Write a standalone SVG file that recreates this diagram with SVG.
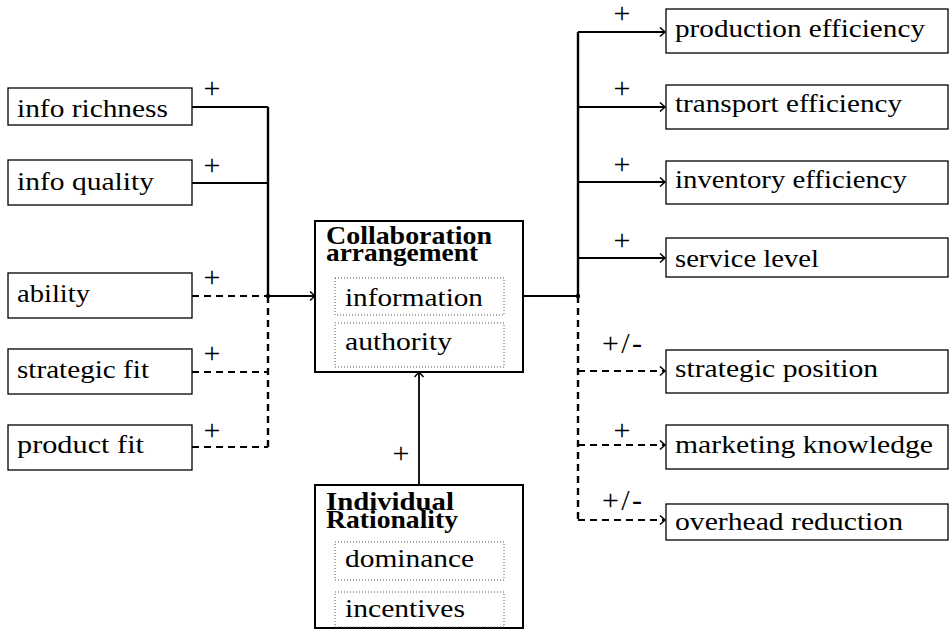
<svg xmlns="http://www.w3.org/2000/svg" width="951" height="637" viewBox="0 0 951 637">
  <style>
    text { font-family: "Liberation Serif", "DejaVu Serif", serif; font-size: 26px; fill: #000; }
    .title { font-weight: bold; font-size: 25px; }
    .sign { font-size: 30px; text-anchor: middle; }
    .leaf { fill: #fff; stroke: #000; stroke-width: 1.3; }
    .core { fill: #fff; stroke: #000; stroke-width: 2; }
    .sub { fill: none; stroke: #555; stroke-width: 1; stroke-dasharray: 1 2; }
    .wire { fill: none; stroke: #000; stroke-width: 1.8; }
    .bus { fill: none; stroke: #000; stroke-width: 2.4; }
    .dash { stroke-dasharray: 7 5; }
  </style>
  <defs>
    <marker id="arrow" markerWidth="8" markerHeight="12" refX="6" refY="5" orient="auto" markerUnits="userSpaceOnUse">
      <path d="M1,0.5 L6,5 L1,9.5" fill="none" stroke="#000" stroke-width="1.5"/>
    </marker>
  </defs>

  <rect width="951" height="637" fill="#fff"/>

  <!-- connectors -->
  <g id="connectors">
    <!-- left inputs into the left bus -->
    <path class="wire" d="M192,107 H268"/>
    <path class="wire" d="M192,183 H268"/>
    <path class="wire dash" d="M192,296 H268"/>
    <path class="wire dash" d="M192,372 H268"/>
    <path class="wire dash" d="M192,447 H268"/>
    <path class="bus" d="M268,107 V296"/>
    <path class="bus dash" d="M268,296 V447"/>
    <circle cx="268" cy="296" r="2.2"/>
    <path class="wire" d="M268,296 H315" marker-end="url(#arrow)"/>

    <!-- individual rationality up into collaboration arrangement -->
    <path class="wire" d="M419,485 V372" marker-end="url(#arrow)"/>

    <!-- collaboration arrangement out to the right bus -->
    <path class="wire" d="M523,296 H578"/>
    <path class="bus" d="M578,32 V296"/>
    <path class="bus dash" d="M578,296 V520"/>
    <circle cx="578" cy="296" r="2.2"/>
    <path class="wire" d="M578,32 H665" marker-end="url(#arrow)"/>
    <path class="wire" d="M578,107 H665" marker-end="url(#arrow)"/>
    <path class="wire" d="M578,182 H665" marker-end="url(#arrow)"/>
    <path class="wire" d="M578,258 H665" marker-end="url(#arrow)"/>
    <path class="wire dash" d="M578,371 H665" marker-end="url(#arrow)"/>
    <path class="wire dash" d="M578,445 H665" marker-end="url(#arrow)"/>
    <path class="wire dash" d="M578,520 H665" marker-end="url(#arrow)"/>

    <!-- effect signs -->
    <text class="sign" x="212" y="98">+</text>
    <text class="sign" x="212" y="175">+</text>
    <text class="sign" x="212" y="287">+</text>
    <text class="sign" x="212" y="363">+</text>
    <text class="sign" x="212" y="440">+</text>
    <text class="sign" x="401" y="463">+</text>
    <text class="sign" x="622" y="23">+</text>
    <text class="sign" x="622" y="98">+</text>
    <text class="sign" x="622" y="174">+</text>
    <text class="sign" x="622" y="250">+</text>
    <text class="sign" x="622" y="353" textLength="40" lengthAdjust="spacing">+/-</text>
    <text class="sign" x="622" y="440">+</text>
    <text class="sign" x="622" y="510" textLength="40" lengthAdjust="spacing">+/-</text>
  </g>

  <!-- input factors -->
  <g id="info-richness">
    <rect class="leaf" x="8" y="88" width="184" height="37"/>
    <text x="17" y="117" textLength="151" lengthAdjust="spacingAndGlyphs">info richness</text>
  </g>
  <g id="info-quality">
    <rect class="leaf" x="8" y="160" width="184" height="45"/>
    <text x="17" y="190" textLength="137" lengthAdjust="spacingAndGlyphs">info quality</text>
  </g>
  <g id="ability">
    <rect class="leaf" x="8" y="273" width="184" height="45"/>
    <text x="17" y="302" textLength="73" lengthAdjust="spacingAndGlyphs">ability</text>
  </g>
  <g id="strategic-fit">
    <rect class="leaf" x="8" y="349" width="184" height="45"/>
    <text x="17" y="378" textLength="132" lengthAdjust="spacingAndGlyphs">strategic fit</text>
  </g>
  <g id="product-fit">
    <rect class="leaf" x="8" y="425" width="184" height="45"/>
    <text x="17" y="453" textLength="127" lengthAdjust="spacingAndGlyphs">product fit</text>
  </g>

  <!-- central construct -->
  <g id="collaboration-arrangement">
    <rect class="core" x="315" y="221" width="208" height="151"/>
    <text class="title"><tspan x="326" y="244" textLength="166" lengthAdjust="spacingAndGlyphs">Collaboration</tspan><tspan x="326" y="261" textLength="152" lengthAdjust="spacingAndGlyphs">arrangement</tspan></text>
    <rect class="sub" x="335" y="278" width="169" height="37"/>
    <text x="345" y="306" textLength="138" lengthAdjust="spacingAndGlyphs">information</text>
    <rect class="sub" x="335" y="323" width="169" height="44"/>
    <text x="345" y="350" textLength="107" lengthAdjust="spacingAndGlyphs">authority</text>
  </g>

  <g id="individual-rationality">
    <rect class="core" x="315" y="485" width="208" height="143"/>
    <text class="title"><tspan x="326" y="510" textLength="128" lengthAdjust="spacingAndGlyphs">Individual</tspan><tspan x="326" y="528" textLength="132" lengthAdjust="spacingAndGlyphs">Rationality</tspan></text>
    <rect class="sub" x="335" y="542" width="169" height="38"/>
    <text x="345" y="567" textLength="129" lengthAdjust="spacingAndGlyphs">dominance</text>
    <rect class="sub" x="335" y="592" width="169" height="35"/>
    <text x="345" y="617" textLength="120" lengthAdjust="spacingAndGlyphs">incentives</text>
  </g>

  <!-- outcomes -->
  <g id="production-efficiency">
    <rect class="leaf" x="666" y="9" width="282" height="44"/>
    <text x="675" y="37" textLength="250" lengthAdjust="spacingAndGlyphs">production efficiency</text>
  </g>
  <g id="transport-efficiency">
    <rect class="leaf" x="666" y="85" width="282" height="44"/>
    <text x="675" y="112" textLength="227" lengthAdjust="spacingAndGlyphs">transport efficiency</text>
  </g>
  <g id="inventory-efficiency">
    <rect class="leaf" x="666" y="161" width="282" height="43"/>
    <text x="675" y="188" textLength="232" lengthAdjust="spacingAndGlyphs">inventory efficiency</text>
  </g>
  <g id="service-level">
    <rect class="leaf" x="666" y="238" width="282" height="39"/>
    <text x="675" y="267" textLength="144" lengthAdjust="spacingAndGlyphs">service level</text>
  </g>
  <g id="strategic-position">
    <rect class="leaf" x="666" y="350" width="282" height="43"/>
    <text x="675" y="377" textLength="203" lengthAdjust="spacingAndGlyphs">strategic position</text>
  </g>
  <g id="marketing-knowledge">
    <rect class="leaf" x="666" y="425" width="282" height="44"/>
    <text x="675" y="453" textLength="258" lengthAdjust="spacingAndGlyphs">marketing knowledge</text>
  </g>
  <g id="overhead-reduction">
    <rect class="leaf" x="666" y="504" width="282" height="36"/>
    <text x="675" y="530" textLength="228" lengthAdjust="spacingAndGlyphs">overhead reduction</text>
  </g>
</svg>
